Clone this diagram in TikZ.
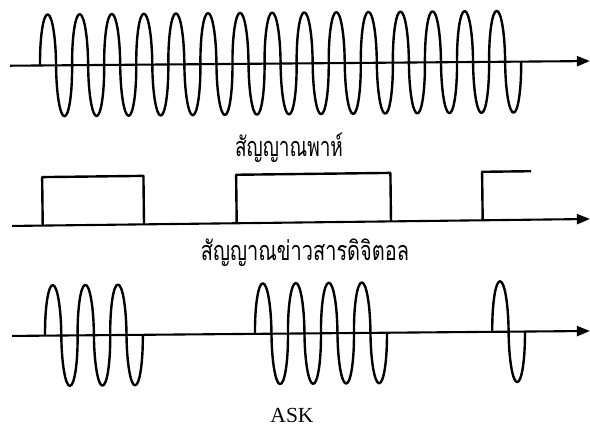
\documentclass[tikz,border=0pt]{standalone}
\usepackage{fontspec}
\setmainfont{Liberation Serif}
\newfontfamily\thaifont[Script=Thai]{Loma}
\usetikzlibrary{arrows.meta}
\begin{document}
\begin{tikzpicture}[x=1pt,y=-1pt,
  axisline/.style={line width=2.1pt,-{Triangle[length=13pt,width=10pt]}},
  wave/.style={line width=2.4pt,line join=round},
  thailbl/.style={font=\thaifont\fontsize{20}{24}\selectfont,inner sep=0pt,anchor=base},
  latinlbl/.style={font=\fontsize{21.5}{25}\selectfont,inner sep=0pt,anchor=base}]
\useasboundingbox (0,0) rectangle (590,427);
% carrier
\begin{scope}[rotate around={0.46:(300,63.4)}]
  \coordinate (c0) at (10,63.4);
  \coordinate (c1) at (590,63.4);
  \coordinate (cw) at (40,63.4);
  \draw[axisline] (c0) -- (c1);
  \draw[wave] (cw) \foreach \k in {1,...,15}{
     arc[start angle=180,end angle=360,x radius=8.02,y radius=51]
     arc[start angle=180,end angle=0,x radius=8.02,y radius=51]};
\end{scope}
\node[thailbl] (carrier) at (289,157) {\scalebox{0.95}[1.35]{สัญญาณพาห์}};
% digital message
\begin{scope}[rotate around={0.69:(300,222.5)}]
  \coordinate (d0) at (12,222.5);
  \coordinate (d1) at (590,222.5);
  \draw[axisline] (d0) -- (d1);
  \draw[wave] (42.7,222.5) -- (42.7,174) -- (144,174) -- (144,222.5);
  \draw[wave] (236.7,222.5) -- (236.7,174) -- (391,174) -- (391,222.5);
  \draw[wave] (482.7,222.5) -- (482.7,174) -- (531.7,174);
\end{scope}
\node[thailbl] (digital) at (305,261) {\scalebox{1}[1.35]{สัญญาณข่าวสารดิจิตอล}};
% ASK
\begin{scope}[rotate around={0.49:(300,333.5)}]
  \coordinate (a0) at (12,333.5);
  \coordinate (a1) at (590,333.5);
  \coordinate (b1) at (45,333.5);
  \coordinate (b2) at (255,333.5);
  \coordinate (b3) at (492.3,333.5);
  \draw[axisline] (a0) -- (a1);
  \draw[wave] (b1) \foreach \k in {1,...,3}{
     arc[start angle=180,end angle=360,x radius=8.15,y radius=50.5]
     arc[start angle=180,end angle=0,x radius=8.15,y radius=50.5]};
  \draw[wave] (b2) \foreach \k in {1,...,4}{
     arc[start angle=180,end angle=360,x radius=8.25,y radius=50.5]
     arc[start angle=180,end angle=0,x radius=8.25,y radius=50.5]};
  \draw[wave] (b3)
     arc[start angle=180,end angle=360,x radius=8.18,y radius=50.5]
     arc[start angle=180,end angle=0,x radius=8.18,y radius=50.5];
\end{scope}
\node[latinlbl] (ask) at (292,423) {ASK};
\end{tikzpicture}
\end{document}
